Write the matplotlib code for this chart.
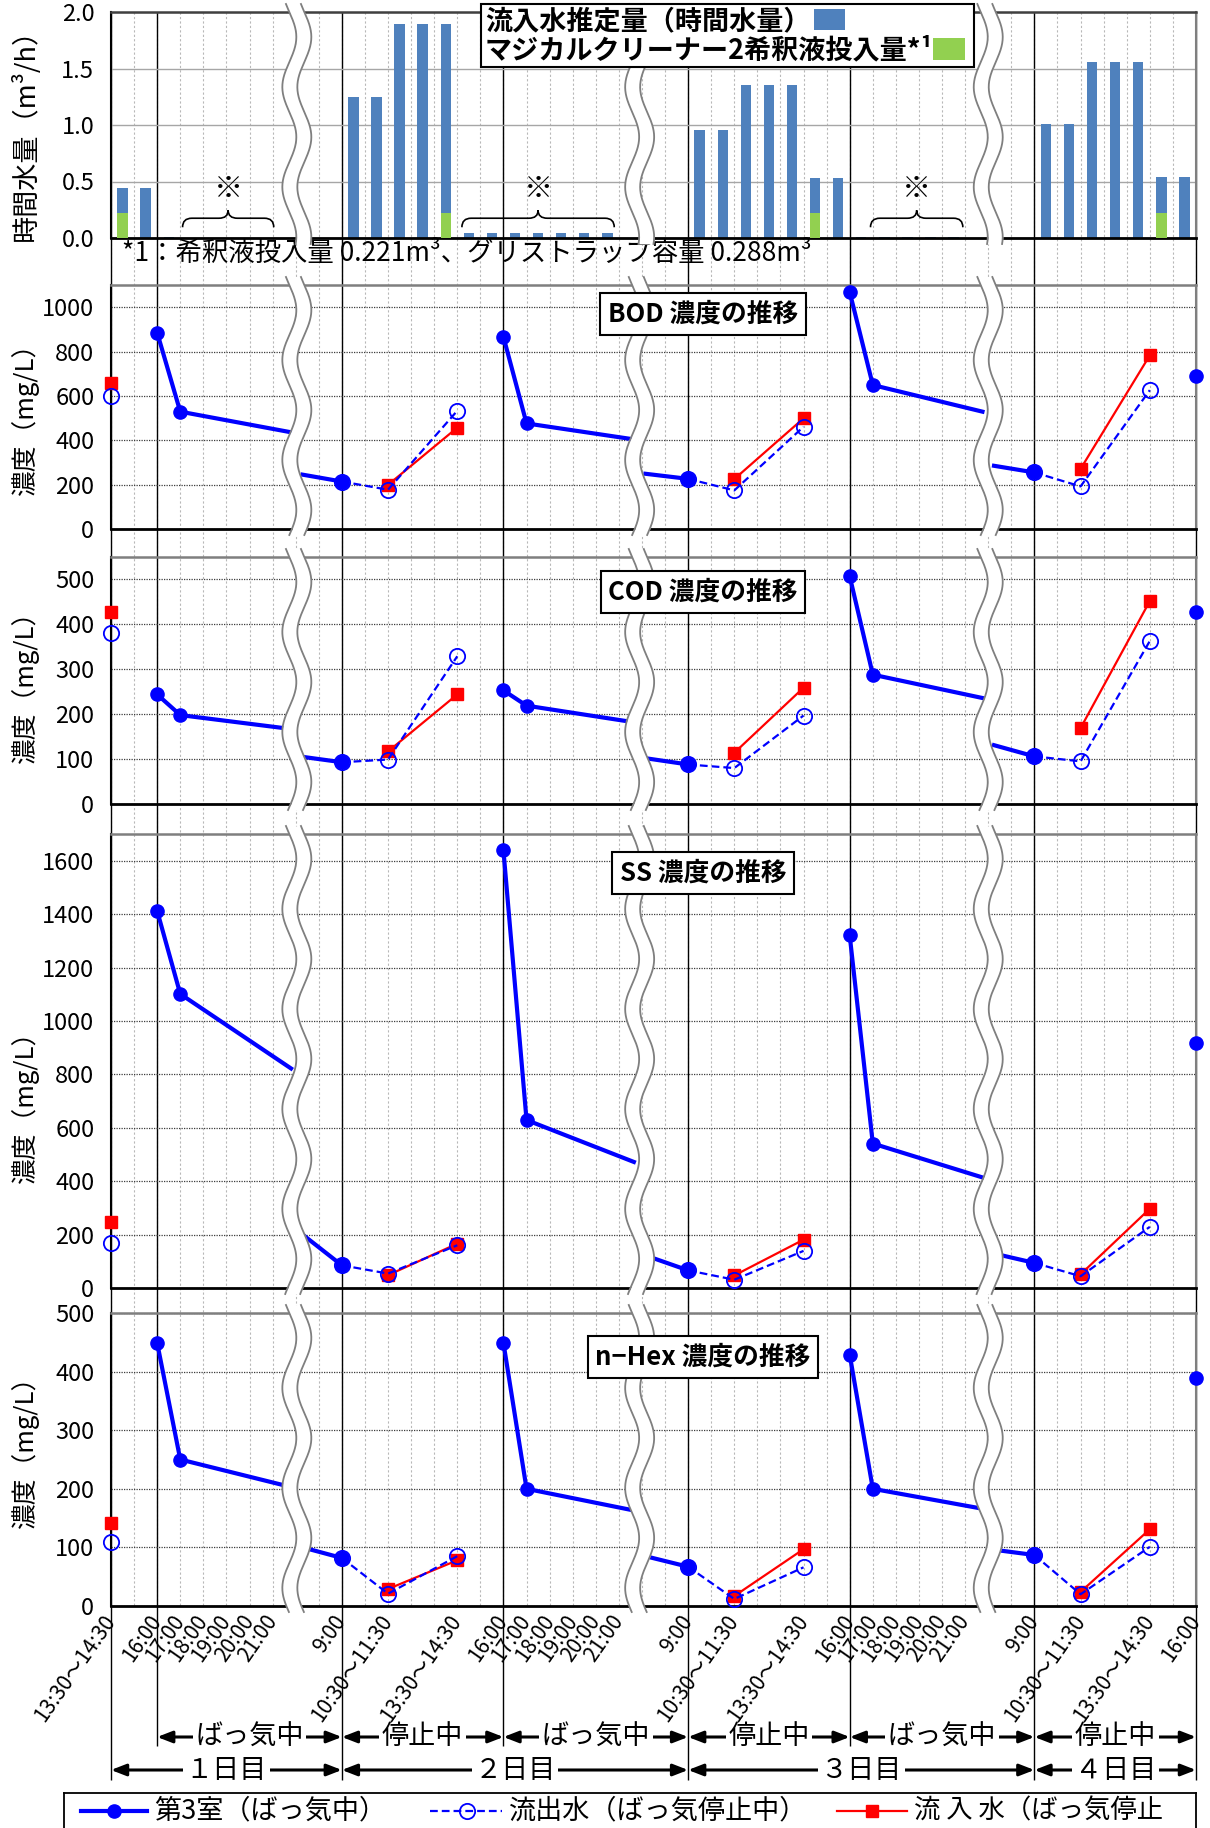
import numpy as np
import matplotlib.pyplot as plt
from matplotlib.patches import Rectangle, PathPatch
from matplotlib.path import Path

plt.rcParams['font.family'] = ['Noto Sans CJK JP', 'DejaVu Sans']

nan = np.nan
W, H = 1210, 1828

# ---- x axis: category number (0 = 1日目 13:30～14:30) ----
tick_pos = [0, 2, 3, 4, 5, 6, 7, 10, 12, 15, 17, 18, 19, 20, 21, 22, 25, 27, 30,
            32, 33, 34, 35, 36, 37, 40, 42, 45, 47]
tick_labels = ['13:30～14:30', '16:00', '17:00', '18:00', '19:00', '20:00', '21:00',
               '9:00', '10:30～11:30', '13:30～14:30',
               '16:00', '17:00', '18:00', '19:00', '20:00', '21:00',
               '9:00', '10:30～11:30', '13:30～14:30',
               '16:00', '17:00', '18:00', '19:00', '20:00', '21:00',
               '9:00', '10:30～11:30', '13:30～14:30', '16:00']
major_pos = [0, 2, 10, 17, 25, 32, 40, 47]
break_pos = [8.05, 22.9, 38.0]

# ---- 時間水量 (m3/h) ----
flow_x = np.arange(47) + 0.5
flow = [0.44, 0.44, 0.01, 0, 0, 0, 0, 0, 0, 0,
        1.245, 1.245, 1.895, 1.895, 1.895,
        0.047, 0.047, 0.047, 0.047, 0.047, 0.047, 0.047,
        0, 0, 0,
        0.955, 0.955, 1.355, 1.355, 1.355, 0.527, 0.527,
        0.01, 0.01, 0.01, 0.01, 0.01,
        0, 0, 0,
        1.01, 1.01, 1.56, 1.56, 1.56, 0.54, 0.54]
dose_x = [0.5, 14.5, 30.5, 45.5]
dose = [0.221, 0.221, 0.221, 0.221]

# ---- 濃度 (mg/L) ----
room_x = [2, 3, 7.8, nan, 8.3, 10, nan, 17, 18, 22.65, nan, 23.15, 25, nan,
          32, 33, 37.75, nan, 38.25, 40, nan, 47]
room_marks = [0, 1, 5, 7, 8, 12, 14, 15, 19, 21]
out_x = [0, nan, 10, 12, 15, nan, 25, 27, 30, nan, 40, 42, 45]
in_x = [0, nan, 12, 15, nan, 27, 30, nan, 42, 45]

bod_room = [885, 529, 436, nan, 245, 214, nan, 866, 476, 404, nan, 249, 226, nan,
            1068, 649, 529, nan, 285, 255, nan, 689]
bod_out = [600, nan, 214, 177, 533, nan, 226, 174, 461, nan, 255, 192, 626]
bod_in = [660, nan, 199, 457, nan, 225, 499, nan, 271, 783]

cod_room = [244, 198, 167, nan, 105, 93, nan, 253, 219, 182, nan, 102, 88, nan,
            507, 288, 236, nan, 131, 106, nan, 427]
cod_out = [381, nan, 93, 99, 329, nan, 88, 80, 197, nan, 106, 95, 363]
cod_in = [427, nan, 117, 244, nan, 114, 259, nan, 169, 452]

ss_room = [1412, 1101, 822, nan, 200, 85, nan, 1639, 629, 472, nan, 122, 66, nan,
           1320, 541, 414, nan, 129, 94, nan, 919]
ss_out = [169, nan, 85, 54, 160, nan, 66, 31, 139, nan, 94, 44, 229]
ss_in = [247, nan, 48, 166, nan, 47, 181, nan, 51, 297]

hex_room = [449, 250, 203, nan, 100, 82, nan, 449, 200, 163, nan, 85, 67, nan,
            429, 200, 166, nan, 96, 87, nan, 389]
hex_out = [110, nan, 82, 21, 85, nan, 67, 12, 66, nan, 87, 20, 101]
hex_in = [142, nan, 29, 78, nan, 17, 97, nan, 24, 131]

X_LEFT, X_RIGHT = 111, 1196
NCAT = 47


def rect(top, bottom, left=X_LEFT, right=X_RIGHT):
    return [left / W, 1 - bottom / H, (right - left) / W, (bottom - top) / H]


def px(c):
    return X_LEFT + c * (X_RIGHT - X_LEFT) / NCAT


fig = plt.figure(figsize=(W / 100, H / 100), dpi=100)

# background: vertical grid lines running through all panels
bg = fig.add_axes(rect(0, H), zorder=0)
bg.set_xlim(0, NCAT)
bg.set_ylim(H, 0)
bg.axis('off')
bg.vlines(range(NCAT + 1), 12, 1606, color='#b8b8b8', lw=0.8, ls=(0, (2, 2)))
for k in major_pos:
    end = 1746 if k in (2, 17, 32) else 1780
    bg.vlines(k, 12, end, color='black', lw=1.0, clip_on=False)


def style_panel(ax, ymax, step, fmt, grid_style):
    ax.set_facecolor('none')
    ax.set_xlim(0, NCAT)
    ax.set_ylim(0, ymax)
    ax.set_yticks(np.arange(0, ymax + 1e-9, step))
    ax.set_yticklabels([fmt.format(v) for v in np.arange(0, ymax + 1e-9, step)])
    ax.set_xticks([])
    ax.tick_params(axis='y', length=0, pad=12, labelsize=17)
    ax.yaxis.grid(True, **grid_style)
    ax.set_axisbelow(True)
    ax.spines['left'].set_color('black')
    ax.spines['bottom'].set_color('black')
    ax.spines['left'].set_linewidth(1.5)
    ax.spines['bottom'].set_linewidth(2.0)
    ax.spines['top'].set_color('#7f7f7f')
    ax.spines['right'].set_color('#7f7f7f')
    ax.spines['top'].set_linewidth(1.8)
    ax.spines['right'].set_linewidth(1.5)


# ---- top panel: hourly flow ----
ax0 = fig.add_axes(rect(12, 238), zorder=1)
ax0.bar(flow_x, flow, width=0.45, color='#4F81BD', zorder=2)
ax0.bar(dose_x, dose, width=0.45, color='#92D050', zorder=3)
style_panel(ax0, 2.0, 0.5, '{:.1f}', dict(color='#a6a6a6', lw=1.0))
ax0.spines['top'].set_color('#404040')


def brace(ax, x0, x1, y0=0.095, y1=0.175, y2=0.245, r=0.4):
    xm = (x0 + x1) / 2
    verts = [(x0, y0), (x0, y1), (x0 + r, y1), (xm - r, y1), (xm, y1), (xm, y2),
             (xm, y1), (xm + r, y1), (x1 - r, y1), (x1, y1), (x1, y0)]
    codes = [Path.MOVETO, Path.CURVE3, Path.CURVE3, Path.LINETO, Path.CURVE3, Path.CURVE3,
             Path.CURVE3, Path.CURVE3, Path.LINETO, Path.CURVE3, Path.CURVE3]
    ax.add_patch(PathPatch(Path(verts, codes), fill=False, lw=1.2, ec='black', zorder=4))
    ax.text(xm, 0.43, '※', ha='center', va='center', fontsize=21, fontweight='bold', zorder=4)


brace(ax0, 3.1, 7.05)
brace(ax0, 15.2, 21.8)
brace(ax0, 32.9, 36.9)

fig.text(122 / W, 1 - 253 / H, '*1：希釈液投入量 0.221m³、グリストラップ容量 0.288m³',
         va='center', ha='left', fontsize=19)

# ---- concentration panels ----
dot_grid = dict(color='#3c3c3c', lw=0.9, ls=(0, (1, 1)))
panels = [
    (285, 529, 1100, 200, bod_room, bod_out, bod_in),
    (557, 804, 550, 100, cod_room, cod_out, cod_in),
    (834, 1288, 1700, 200, ss_room, ss_out, ss_in),
    (1313, 1606, 500, 100, hex_room, hex_out, hex_in),
]
axes = []
for top, bottom, ymax, step, room, out, inflow in panels:
    ax = fig.add_axes(rect(top, bottom), zorder=1)
    ax.plot(room_x, room, color='#0000ff', lw=3.0, marker='o', ms=9.5,
            markevery=room_marks, zorder=3, clip_on=False)
    ax.plot(in_x, inflow, color='#ff0000', lw=1.6, marker='s', ms=8.5,
            zorder=4, clip_on=False)
    ax.plot(out_x, out, color='#0000ff', lw=1.6, ls=(0, (3.5, 1.8)), marker='o', ms=11,
            mfc='none', mec='#0000ff', mew=1.3, zorder=5, clip_on=False)
    style_panel(ax, ymax, step, '{:.0f}', dot_grid)
    axes.append(ax)

ax_hex = axes[-1]
ax_hex.set_xticks(tick_pos)
ax_hex.set_xticklabels(tick_labels, rotation=55, ha='right', va='center',
                       rotation_mode='anchor', fontsize=15)
ax_hex.tick_params(axis='x', length=0, pad=8)

# y labels
fig.text(25 / W, 1 - 128 / H, '時間水量（m³/h）', rotation=90, ha='center', va='center', fontsize=19.5)
for yc in [412, 680, 1100, 1445]:
    fig.text(25 / W, 1 - yc / H, '濃度（mg/L）', rotation=90, ha='center', va='center', fontsize=18.5)

# ---- operation / day arrows ----
ops = [(2, 10, 'ばっ気中'), (10, 17, '停止中'), (17, 25, 'ばっ気中'),
       (25, 32, '停止中'), (32, 40, 'ばっ気中'), (40, 47, '停止中')]
days = [(0, 10, '１日目'), (10, 25, '２日目'), (25, 40, '３日目'), (40, 47, '４日目')]
for row_y, items in [(1737, ops), (1770, days)]:
    for a, b, label in items:
        bg.annotate('', xy=(b, row_y), xytext=(a, row_y), annotation_clip=False,
                    arrowprops=dict(arrowstyle='<|-|>,head_length=0.9,head_width=0.35',
                                    color='black', lw=2.2, shrinkA=0, shrinkB=0))
        bg.text((a + b) / 2, row_y, label, ha='center', va='center', fontsize=19.5,
                bbox=dict(fc='white', ec='none', pad=2), clip_on=False)

# ---- overlay: axis breaks, title boxes, legend of top panel ----
ov = fig.add_axes([0, 0, 1, 1], zorder=5)
ov.set_xlim(0, W)
ov.set_ylim(H, 0)
ov.axis('off')
ov.patch.set_alpha(0)

AMP, HALF, PERIOD = 7.0, 7.5, 100.0
for top, bottom in [(12, 238), (285, 529), (557, 804), (834, 1288), (1313, 1606)]:
    ys = np.linspace(top - 8, bottom + 6, 300)
    for c in break_pos:
        xc = px(c) + AMP * np.sin(2 * np.pi * (ys - top) / PERIOD)
        ov.fill_betweenx(ys, xc - HALF, xc + HALF, color='white', lw=0, zorder=2)
        ov.plot(xc - HALF, ys, color='#7f7f7f', lw=1.3, zorder=3)
        ov.plot(xc + HALF, ys, color='#7f7f7f', lw=1.3, zorder=3)

titles = [(314, 'BOD 濃度の推移'), (592, 'COD 濃度の推移'),
          (873, 'SS 濃度の推移'), (1357, 'n−Hex 濃度の推移')]
for yc, t in titles:
    ov.text(703, yc, t, ha='center', va='center', fontsize=18.5, fontweight='bold', zorder=6,
            bbox=dict(boxstyle='square,pad=0.3', fc='white', ec='black', lw=1.5))

ov.add_patch(Rectangle((481, 4), 493, 63, fc='white', ec='black', lw=1.5, zorder=6))
ov.text(485, 21, '流入水推定量（時間水量）', va='center', ha='left', fontsize=19.5,
        fontweight='bold', zorder=7)
ov.text(485, 50, 'マジカルクリーナー2希釈液投入量*¹', va='center', ha='left', fontsize=19.5,
        fontweight='bold', zorder=7)
ov.add_patch(Rectangle((814, 9), 31, 21, fc='#4F81BD', ec='none', zorder=7))
ov.add_patch(Rectangle((933, 38), 32, 22, fc='#92D050', ec='none', zorder=7))

# ---- legend at bottom (frame runs past the lower edge) ----
leg = fig.add_axes([64 / W, 1 - 1850 / H, (1196 - 64) / W, (1850 - 1793) / H], zorder=6)
leg.set_xlim(64, 1196)
leg.set_ylim(1850, 1793)
leg.set_xticks([])
leg.set_yticks([])
for s in leg.spines.values():
    s.set_color('black')
    s.set_linewidth(1.3)
ly = 1811
leg.plot([81, 114, 147], [ly] * 3, color='#0000ff', lw=3.0, marker='o', ms=9.5, markevery=[1])
leg.text(154, ly, '第3室（ばっ気中）', va='center', fontsize=19.5)
leg.plot([430, 467, 502], [ly] * 3, color='#0000ff', lw=1.6, ls=(0, (3.5, 1.8)), marker='o',
         ms=11, mfc='none', mew=1.3, markevery=[1])
leg.text(509, ly, '流出水（ばっ気停止中）', va='center', fontsize=19.5)
leg.plot([837, 872, 907], [ly] * 3, color='#ff0000', lw=1.6, marker='s', ms=8.5, markevery=[1])
leg.text(914, ly, '流 入 水（ばっ気停止', va='center', fontsize=19)

fig.savefig('out.png', dpi=100)
